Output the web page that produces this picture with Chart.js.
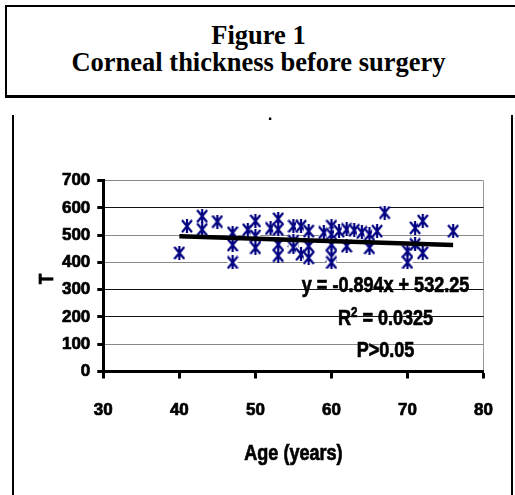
<!DOCTYPE html>
<html><head><meta charset="utf-8">
<script src="https://cdn.jsdelivr.net/npm/chart.js@4.4.1/dist/chart.umd.min.js"></script>
<style>
html,body{margin:0;padding:0;background:#fff;width:515px;height:495px;overflow:hidden;}
#titlebox{position:absolute;left:5px;top:5px;width:530px;height:87.7px;border:2px solid #000;border-bottom-width:3px;}
#titletext{position:absolute;left:5px;top:21.5px;width:507px;text-align:center;font-family:'Liberation Serif','Times New Roman',serif;font-weight:bold;font-size:26.5px;line-height:27.4px;color:#000;}
#chartbox{position:absolute;left:12px;top:115px;width:497px;height:400px;border-left:2px solid #000;border-right:2px solid #000;}
#c{position:absolute;left:0;top:0;}
</style></head>
<body>
<div id="titlebox"></div>
<div id="titletext">Figure 1<br>Corneal thickness before surgery</div>
<div id="chartbox"></div>
<canvas id="c" width="515" height="495"></canvas>
<script>
// ---- data ----
const ages = [40,41,43,43,45,47,47,47,49,50,50,50,52,53,53,53,53,55,55,55,56,56,57,57,57,59,60,60,60,60,60,61,62,62,63,64,65,65,66,67,70,70,71,71,72,72,76];
const thickness = [435,533,570,521,550,509,464,400,520,552,497,454,525,560,521,466,425,533,478,455,533,430,515,460,417,510,533,503,466,423,400,515,521,460,518,510,503,454,515,583,441,400,527,466,552,435,515];
const slope = -0.894;
const intercept = 532.25;
const eqText = 'y = -0.894x + 532.25';
const r2Value = '0.0325';
const pText = 'P>0.05';
const xTitle = 'Age (years)';
const yTitle = 'T';

const SANS = "'Liberation Sans', Arial, sans-serif";
Chart.defaults.font.family = SANS;
Chart.defaults.font.size = 17;
Chart.defaults.font.weight = 'bold';
Chart.defaults.color = '#000';

function makeMarker(){
  const c=document.createElement('canvas'); c.width=12; c.height=14;
  const g=c.getContext('2d');
  g.fillStyle='#fff'; g.fillRect(1,1,10,12);
  g.strokeStyle='#000080'; g.lineWidth=2.2; g.beginPath();
  g.moveTo(1,1); g.lineTo(11,13);
  g.moveTo(11,1); g.lineTo(1,13);
  g.moveTo(6,0); g.lineTo(6,14);
  g.stroke();
  return c;
}

const xMin=Math.min(...ages), xMax=Math.max(...ages);
const points = ages.map((a,i)=>({x:a,y:thickness[i]}));
const trend = [{x:xMin,y:slope*xMin+intercept},{x:xMax,y:slope*xMax+intercept}];

const darkGrid=[600,300,200];
const SQ=0.82; // condensed text factor

function narrowText(ctx,txt,x,y,size,align,rot){
  ctx.save();
  ctx.font="bold "+size+"px "+SANS;
  const w=ctx.measureText(txt).width*SQ;
  ctx.translate(x,y);
  if(rot) ctx.rotate(rot);
  ctx.scale(SQ,1);
  ctx.textAlign=align;
  ctx.textBaseline='alphabetic';
  ctx.fillText(txt,0,0);
  ctx.lineWidth=0.7; ctx.strokeStyle='#000';
  ctx.strokeText(txt,0,0);
  ctx.restore();
  return w;
}
function narrowWidth(ctx,txt,size){
  ctx.save(); ctx.font="bold "+size+"px "+SANS; const w=ctx.measureText(txt).width*SQ; ctx.restore(); return w;
}

const textPlugin={
  id:'texts',
  afterDraw(chart){
    const {ctx, chartArea:a}=chart;
    ctx.save();
    ctx.fillStyle='#000';
    const cx=a.right-98;
    narrowText(ctx,eqText,cx,a.top+111,22,'center');
    const r='R', rest=' = '+r2Value;
    const wR=narrowWidth(ctx,r,22), w2=narrowWidth(ctx,'2',14), wRest=narrowWidth(ctx,rest,22);
    const x0=cx-(wR+w2+wRest)/2, by=a.top+144.3;
    narrowText(ctx,r,x0,by,22,'left');
    narrowText(ctx,'2',x0+wR,by-8,14,'left');
    narrowText(ctx,rest,x0+wR+w2,by,22,'left');
    narrowText(ctx,pText,cx,a.top+176.6,22,'center');
    // axis titles
    narrowText(ctx,xTitle,(a.left+a.right)/2,a.bottom+88.5,22,'center');
    narrowText(ctx,yTitle,a.left-50,(a.top+a.bottom)/2+3,21,'center',-Math.PI/2);
    // chart title dot
    ctx.font="bold 17px "+SANS;
    ctx.textAlign='center';
    ctx.fillText('.',270,120);
    ctx.restore();
  }
};

new Chart(document.getElementById('c'),{
  type:'scatter',
  data:{datasets:[
    {type:'line',data:trend,borderColor:'#000',borderWidth:4.5,pointRadius:0,showLine:true,fill:false,order:0},
    {data:points,pointStyle:makeMarker(),pointRadius:6,order:1}
  ]},
  options:{
    responsive:false,animation:false,
    layout:{padding:{left:33.5,right:26.7,top:180.7,bottom:23.5}},
    plugins:{legend:{display:false},tooltip:{enabled:false},title:{display:false}},
    scales:{
      x:{type:'linear',min:30,max:80,
        ticks:{stepSize:10,padding:22,color:'#000',font:{family:SANS,weight:'bold',size:17},textStrokeColor:'#000',textStrokeWidth:0.7},
        grid:{color:c=>(c.tick&&c.tick.value===80)?'#999':'rgba(0,0,0,0)',tickColor:'#000',tickLength:7,tickWidth:3,lineWidth:1},
        border:{color:'#000',width:3},
        title:{display:false},
        afterFit:s=>{s.height=100;}
      },
      y:{min:0,max:700,
        ticks:{stepSize:100,padding:7,color:'#000',font:{family:SANS,weight:'bold',size:17},textStrokeColor:'#000',textStrokeWidth:0.7},
        grid:{color:c=>(c.tick&&darkGrid.includes(c.tick.value))?'#111':'#888',tickColor:'#000',tickLength:6,tickWidth:3,lineWidth:1},
        border:{color:'#000',width:3},
        title:{display:false},
        afterFit:s=>{s.width=69.8;}
      }
    }
  },
  plugins:[textPlugin]
});
</script>
</body></html>
